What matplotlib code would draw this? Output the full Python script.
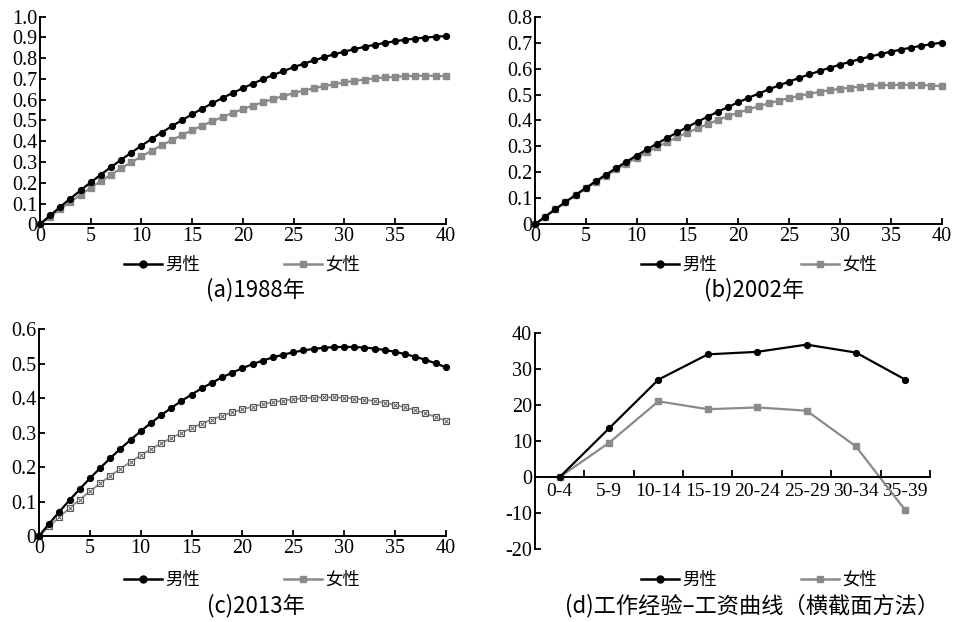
import matplotlib
matplotlib.use("Agg")
import matplotlib.pyplot as plt
from matplotlib.lines import Line2D

plt.rcParams['font.family'] = ['Liberation Serif', 'Noto Sans CJK SC', 'DejaVu Sans']

# ---------------- data ----------------
experience = list(range(0, 41))

male_1988 = [0, 0.0424, 0.0838, 0.1241, 0.1635, 0.2018, 0.2392, 0.2755, 0.3108, 0.3451,
             0.3784, 0.4107, 0.4419, 0.4722, 0.5014, 0.5296, 0.5569, 0.5831, 0.6083, 0.6324,
             0.6556, 0.6778, 0.6989, 0.7190, 0.7381, 0.7562, 0.7733, 0.7894, 0.8045, 0.8186,
             0.8316, 0.8436, 0.8547, 0.8647, 0.8737, 0.8816, 0.8886, 0.8946, 0.8995, 0.9035,
             0.9064]
female_1988 = [0, 0.0371, 0.0732, 0.1084, 0.1425, 0.1756, 0.2078, 0.2390, 0.2692, 0.2984,
               0.3266, 0.3538, 0.3801, 0.4053, 0.4296, 0.4528, 0.4751, 0.4964, 0.5167, 0.5361,
               0.5544, 0.5717, 0.5881, 0.6035, 0.6179, 0.6312, 0.6437, 0.6551, 0.6655, 0.6749,
               0.6834, 0.6909, 0.6973, 0.7028, 0.7073, 0.7108, 0.7134, 0.7149, 0.7155, 0.7150,
               0.7136]

male_2002 = [0, 0.0292, 0.0578, 0.0858, 0.1132, 0.1400, 0.1662, 0.1918, 0.2168, 0.2412,
             0.2650, 0.2882, 0.3108, 0.3328, 0.3542, 0.3750, 0.3952, 0.4148, 0.4338, 0.4522,
             0.4700, 0.4872, 0.5038, 0.5198, 0.5352, 0.5500, 0.5642, 0.5778, 0.5908, 0.6032,
             0.6150, 0.6262, 0.6368, 0.6468, 0.6562, 0.6650, 0.6732, 0.6808, 0.6878, 0.6942,
             0.7000]
female_2002 = [0, 0.0293, 0.0578, 0.0854, 0.1122, 0.1382, 0.1634, 0.1878, 0.2114, 0.2341,
               0.2560, 0.2771, 0.2974, 0.3168, 0.3354, 0.3532, 0.3702, 0.3864, 0.4018, 0.4163,
               0.4300, 0.4429, 0.4550, 0.4662, 0.4766, 0.4862, 0.4950, 0.5030, 0.5102, 0.5165,
               0.5220, 0.5267, 0.5306, 0.5336, 0.5358, 0.5372, 0.5378, 0.5376, 0.5366, 0.5347,
               0.5320]

male_2013 = [0, 0.0358, 0.0705, 0.1039, 0.1361, 0.1671, 0.1969, 0.2255, 0.2529, 0.2790,
             0.3040, 0.3277, 0.3503, 0.3716, 0.3917, 0.4106, 0.4283, 0.4448, 0.4601, 0.4741,
             0.4870, 0.4987, 0.5091, 0.5183, 0.5263, 0.5331, 0.5387, 0.5431, 0.5463, 0.5482,
             0.5490, 0.5485, 0.5469, 0.5440, 0.5399, 0.5346, 0.5281, 0.5204, 0.5115, 0.5013,
             0.4900]
female_2013 = [0, 0.0279, 0.0548, 0.0807, 0.1056, 0.1295, 0.1524, 0.1743, 0.1951, 0.2150,
               0.2339, 0.2518, 0.2687, 0.2845, 0.2994, 0.3133, 0.3261, 0.3380, 0.3489, 0.3587,
               0.3676, 0.3755, 0.3823, 0.3882, 0.3930, 0.3969, 0.3997, 0.4016, 0.4024, 0.4023,
               0.4011, 0.3989, 0.3958, 0.3916, 0.3864, 0.3803, 0.3731, 0.3649, 0.3558, 0.3456,
               0.3350]

groups_d = ['0-4', '5-9', '10-14', '15-19', '20-24', '25-29', '30-34', '35-39']
male_cross = [0, 13.5, 27.0, 34.0, 34.7, 36.7, 34.5, 27.0]
female_cross = [0, 9.5, 21.0, 18.8, 19.3, 18.4, 8.5, -9.2]

x_ticks = [0, 5, 10, 15, 20, 25, 30, 35, 40]
x_ticklabels = ['0', '5', '10', '15', '20', '25', '30', '35', '40']
y_ticks_a = [0, 0.1, 0.2, 0.3, 0.4, 0.5, 0.6, 0.7, 0.8, 0.9, 1.0]
y_labels_a = ['0', '0.1', '0.2', '0.3', '0.4', '0.5', '0.6', '0.7', '0.8', '0.9', '1.0']
y_ticks_b = [0, 0.1, 0.2, 0.3, 0.4, 0.5, 0.6, 0.7, 0.8]
y_labels_b = ['0', '0.1', '0.2', '0.3', '0.4', '0.5', '0.6', '0.7', '0.8']
y_ticks_c = [0, 0.1, 0.2, 0.3, 0.4, 0.5, 0.6]
y_labels_c = ['0', '0.1', '0.2', '0.3', '0.4', '0.5', '0.6']
y_ticks_d = [-20, -10, 0, 10, 20, 30, 40]
y_labels_d = ['-20', '-10', '0', '10', '20', '30', '40']

series_names = ['男性', '女性']
titles = ['(a)1988年', '(b)2002年', '(c)2013年', '(d)工作经验–工资曲线（横截面方法）']

# ---------------- style ----------------
MALE_C = '#000000'
FEMALE_C = '#8a8a8a'
CJK = ['Noto Sans CJK SC', 'DejaVu Sans']
SERIF = 'Liberation Serif'
TICK_FS = 14.5

fig = plt.figure(figsize=(9.56, 6.22), dpi=100)

rects = {
    'a': [0.0418, 0.6394, 0.4244, 0.3338],
    'b': [0.5596, 0.6394, 0.4254, 0.3338],
    'c': [0.0408, 0.1383, 0.4254, 0.3323],
    'd': [0.5596, 0.1169, 0.4132, 0.3482],
}


def style_axes(ax):
    for s in ['top', 'right']:
        ax.spines[s].set_visible(False)
    for s in ['left', 'bottom']:
        ax.spines[s].set_linewidth(1.4)
        ax.spines[s].set_color('black')
    ax.tick_params(axis='both', which='both', direction='in', length=4, width=1.3,
                   colors='black', pad=2)


def curve_panel(rect, male, female, yt, yl, female_cross_marker=False):
    ax = fig.add_axes(rect)
    style_axes(ax)
    ax.plot(experience, male, color=MALE_C, lw=1.6, marker='o', ms=4.2, zorder=3,
            clip_on=False)
    if female_cross_marker:
        ax.plot(experience, female, color=FEMALE_C, lw=1.3, marker='s', ms=4.0,
                mfc='white', mec='#555555', mew=0.8, zorder=2, clip_on=False)
        ax.plot(experience, female, ls='none', marker='x', ms=2.6, mec='#555555',
                mew=0.7, zorder=2, clip_on=False)
    else:
        ax.plot(experience, female, color=FEMALE_C, lw=1.6, marker='s', ms=4.2,
                zorder=2, clip_on=False)
    ax.set_xlim(0, 40)
    ax.set_ylim(yt[0], yt[-1])
    ax.set_xticks(x_ticks)
    ax.set_xticklabels(x_ticklabels, fontfamily=SERIF, fontsize=TICK_FS)
    ax.set_yticks(yt)
    ax.set_yticklabels(yl, fontfamily=SERIF, fontsize=TICK_FS)
    return ax


ax_a = curve_panel(rects['a'], male_1988, female_1988, y_ticks_a, y_labels_a)
ax_b = curve_panel(rects['b'], male_2002, female_2002, y_ticks_b, y_labels_b)
ax_c = curve_panel(rects['c'], male_2013, female_2013, y_ticks_c, y_labels_c,
                   female_cross_marker=True)

# panel d
ax_d = fig.add_axes(rects['d'])
style_axes(ax_d)
xd = list(range(len(groups_d)))
ax_d.plot(xd, male_cross, color=MALE_C, lw=1.6, marker='o', ms=4.2, zorder=3)
ax_d.plot(xd, female_cross, color=FEMALE_C, lw=1.6, marker='s', ms=4.6, zorder=2)
ax_d.spines['bottom'].set_position(('data', 0))
ax_d.set_xlim(-0.5, len(groups_d) - 0.5)
ax_d.set_ylim(-20, 40)
ax_d.set_yticks(y_ticks_d)
ax_d.set_yticklabels(y_labels_d, fontfamily=SERIF, fontsize=TICK_FS)
ax_d.set_xticks(xd)
ax_d.set_xticklabels(groups_d, fontfamily=SERIF, fontsize=14)
ax_d.set_xticks([i + 0.5 for i in xd], minor=True)
ax_d.tick_params(axis='x', which='major', length=0, pad=4)
ax_d.tick_params(axis='x', which='minor', length=5, width=1.3, direction='in')

# legends
handles = [
    Line2D([], [], color=MALE_C, lw=1.8, marker='o', ms=5),
    Line2D([], [], color=FEMALE_C, lw=1.8, marker='s', ms=5),
]
legend_pos = [(0.253, 0.574), (0.794, 0.574), (0.253, 0.0675), (0.794, 0.0675)]
for pos in legend_pos:
    fig.legend(handles, series_names, loc='center', bbox_to_anchor=pos, ncol=2,
               frameon=False, handlelength=2.2, handletextpad=0.2, columnspacing=4.8,
               prop={'family': CJK, 'size': 12.5})

title_pos = [(0.267, 0.534), (0.789, 0.534), (0.268, 0.027), (0.787, 0.027)]
title_fs = [16, 16, 16, 16]
for (x, y), t, fs in zip(title_pos, titles, title_fs):
    fig.text(x, y, t, ha='center', va='center', fontsize=fs, family=CJK)

fig.savefig('out.png', dpi=100)
